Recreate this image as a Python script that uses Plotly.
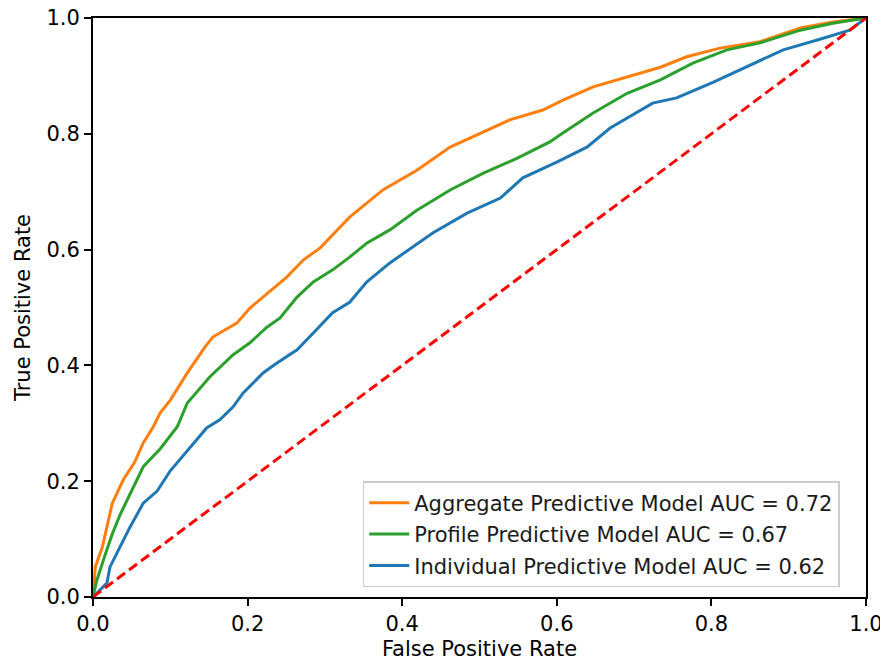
import plotly.graph_objects as go

# Aggregate Predictive Model (orange)
agg_fpr = [0, 0.003, 0.012, 0.018, 0.025, 0.039, 0.054, 0.065, 0.078, 0.087, 0.100, 0.122, 0.145, 0.155,
           0.186, 0.203, 0.226, 0.251, 0.272, 0.294, 0.316, 0.332, 0.375, 0.419, 0.462, 0.505, 0.539,
           0.582, 0.608, 0.647, 0.691, 0.734, 0.768, 0.811, 0.863, 0.915, 0.957, 1.0]
agg_tpr = [0, 0.052, 0.086, 0.121, 0.162, 0.202, 0.233, 0.266, 0.294, 0.318, 0.340, 0.387, 0.432, 0.449,
           0.473, 0.499, 0.525, 0.553, 0.582, 0.603, 0.634, 0.656, 0.703, 0.737, 0.777, 0.803, 0.824,
           0.841, 0.858, 0.881, 0.898, 0.915, 0.933, 0.948, 0.959, 0.983, 0.993, 1.0]

# Profile Predictive Model (green)
pro_fpr = [0, 0.005, 0.016, 0.025, 0.035, 0.048, 0.065, 0.087, 0.109, 0.122, 0.151, 0.181, 0.203, 0.225,
           0.242, 0.264, 0.285, 0.310, 0.332, 0.354, 0.384, 0.419, 0.462, 0.505, 0.549, 0.591, 0.604,
           0.647, 0.691, 0.734, 0.776, 0.820, 0.863, 0.915, 0.957, 1.0]
pro_tpr = [0, 0.029, 0.074, 0.109, 0.142, 0.178, 0.225, 0.256, 0.294, 0.335, 0.380, 0.418, 0.439, 0.466,
           0.482, 0.518, 0.544, 0.565, 0.587, 0.611, 0.634, 0.668, 0.703, 0.732, 0.758, 0.786, 0.798,
           0.836, 0.870, 0.893, 0.922, 0.945, 0.957, 0.979, 0.991, 1.0]

# Individual Predictive Model (blue)
ind_fpr = [0, 0.018, 0.022, 0.035, 0.048, 0.065, 0.083, 0.100, 0.125, 0.147, 0.164, 0.181, 0.194, 0.220,
           0.238, 0.264, 0.285, 0.310, 0.332, 0.354, 0.384, 0.440, 0.484, 0.527, 0.556, 0.600, 0.639,
           0.669, 0.724, 0.755, 0.802, 0.850, 0.893, 0.937, 0.979, 1.0]
ind_tpr = [0, 0.024, 0.052, 0.086, 0.121, 0.162, 0.183, 0.218, 0.257, 0.292, 0.306, 0.328, 0.352, 0.387,
           0.404, 0.427, 0.456, 0.491, 0.509, 0.544, 0.577, 0.629, 0.663, 0.689, 0.724, 0.751, 0.777,
           0.810, 0.853, 0.862, 0.889, 0.919, 0.945, 0.962, 0.979, 1.0]

chance_x = [0, 1]
chance_y = [0, 1]

labels = ["Aggregate Predictive Model AUC = 0.72",
          "Profile Predictive Model AUC = 0.67",
          "Individual Predictive Model AUC = 0.62"]
tick_vals = [0, 0.2, 0.4, 0.6, 0.8, 1.0]
tick_text = ["0.0", "0.2", "0.4", "0.6", "0.8", "1.0"]

FONT = "DejaVu Sans"
FS = 21

fig = go.Figure()
for i, (xs, ys, col, name) in enumerate([
        (agg_fpr, agg_tpr, "#ff7f0e", labels[0]),
        (pro_fpr, pro_tpr, "#2ca02c", labels[1]),
        (ind_fpr, ind_tpr, "#1f77b4", labels[2])]):
    fig.add_trace(go.Scatter(x=xs, y=ys, mode="lines", name=name,
                             line=dict(color=col, width=3),
                             legendgroup="g%d" % i))
fig.add_trace(go.Scatter(x=chance_x, y=chance_y, mode="lines", showlegend=False,
                         line=dict(color="#ff0000", width=3, dash="10px,5px")))

axis_common = dict(range=[0, 1], tickvals=tick_vals, ticktext=tick_text,
                   ticks="outside", ticklen=7, tickwidth=1.5, tickcolor="black",
                   showline=True, linecolor="black", linewidth=1.8, mirror=True,
                   showgrid=False, zeroline=False, automargin=False,
                   ticklabeloverflow="allow",
                   tickfont=dict(family=FONT, size=FS, color="black"))

fig.update_layout(
    width=880, height=657,
    margin=dict(l=85, r=22, t=10, b=68),
    paper_bgcolor="white", plot_bgcolor="white",
    font=dict(family=FONT, size=FS, color="black"),
    xaxis=dict(**axis_common, title=dict(text="False Positive Rate", standoff=6,
                                         font=dict(family=FONT, size=FS, color="black"))),
    yaxis=dict(**axis_common, title=dict(text="True Positive Rate", standoff=10,
                                         font=dict(family=FONT, size=FS, color="black"))),
    legend=dict(x=0.966, y=0.017, xanchor="right", yanchor="bottom",
                bgcolor="rgba(255,255,255,0.8)", bordercolor="#cccccc", borderwidth=1.5,
                font=dict(family=FONT, size=FS, color="#1a1a1a"),
                traceorder="grouped", tracegroupgap=1, itemwidth=40),
)

fig.write_html("out.html")
